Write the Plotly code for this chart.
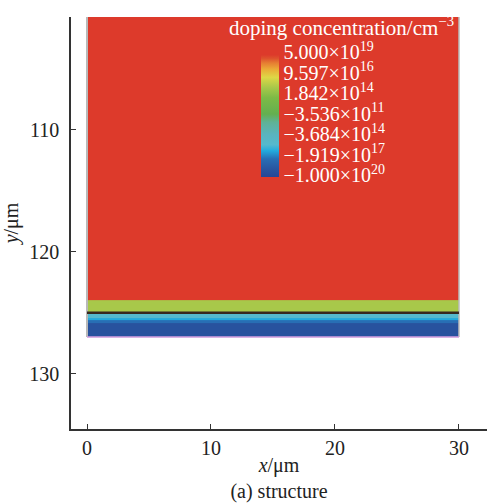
import numpy as np
import plotly.graph_objects as go

# ---- data ----
# layer boundaries along y (µm) and doping concentration (cm^-3) in each layer
y_edges = [100.0, 124.0, 125.0, 125.43, 125.64, 125.85, 127.0]
doping = [5.0e19, 1.2e15, -8.5e15, -5.5e16, -7.0e17, -2.5e19]
x_edges = [0.0, 30.0]
junction_y = 125.0

# colorbar tick labels (doping values)
cb_values = [-1.000e20, -1.919e17, -3.684e14, -3.536e11, 1.842e14, 9.597e16, 5.000e19]
cb_text = ["−1.000×10<sup>20</sup>", "−1.919×10<sup>17</sup>", "−3.684×10<sup>14</sup>",
           "−3.536×10<sup>11</sup>", "1.842×10<sup>14</sup>", "9.597×10<sup>16</sup>",
           "5.000×10<sup>19</sup>"]

x_ticks = [0, 10, 20, 30]
y_ticks = [110, 120, 130]


def sgnlog(v):
    v = np.asarray(v, dtype=float)
    return np.sign(v) * np.log10(np.maximum(np.abs(v), 1.0))


lev_x = sgnlog(cb_values)
lev_y = np.arange(len(cb_values), dtype=float)


def to_level(v):
    return np.interp(sgnlog(v), lev_x, lev_y)


levels = to_level(doping).reshape(-1, 1)

zmin, zmax = -0.08, 6.38
stops = [
    (-0.08, "rgb(38,70,150)"),
    (0.3, "rgb(40,85,160)"),
    (0.8, "rgb(40,110,180)"),
    (1.2, "rgb(35,170,220)"),
    (1.5, "rgb(85,185,205)"),
    (2.0, "rgb(90,180,190)"),
    (2.6, "rgb(95,178,150)"),
    (3.0, "rgb(100,175,80)"),
    (3.8, "rgb(125,186,70)"),
    (4.3, "rgb(168,200,74)"),
    (4.8, "rgb(222,215,70)"),
    (5.2, "rgb(235,170,55)"),
    (5.5, "rgb(230,125,50)"),
    (5.72, "rgb(222,82,45)"),
    (5.9, "rgb(221,58,43)"),
    (6.38, "rgb(221,58,43)"),
]
colorscale = [[(l - zmin) / (zmax - zmin), c] for l, c in stops]

serif = "Liberation Serif"

fig = go.Figure()
fig.add_trace(go.Heatmap(
    x=x_edges, y=y_edges, z=levels,
    zmin=zmin, zmax=zmax, colorscale=colorscale,
    hoverinfo="skip",
    colorbar=dict(
        x=(261 - 71) / 416, xanchor="left", xpad=0,
        y=(433 - 111.5) / 416, yanchor="middle", ypad=0,
        len=132, lenmode="pixels", thickness=18,
        outlinewidth=0, ticks="",
        tickvals=list(to_level(cb_values)), ticktext=cb_text,
        tickfont=dict(family=serif, size=20, color="white"),
    ),
))

# heatmap border lines
fig.add_trace(go.Scatter(x=[x_edges[0], x_edges[0]], y=[y_edges[0], y_edges[-1]], mode="lines",
                         line=dict(color="rgb(185,185,185)", width=2), hoverinfo="skip", showlegend=False))
fig.add_trace(go.Scatter(x=[x_edges[1], x_edges[1]], y=[y_edges[0], y_edges[-1]], mode="lines",
                         line=dict(color="rgb(185,185,185)", width=1.5), hoverinfo="skip", showlegend=False))
fig.add_trace(go.Scatter(x=x_edges, y=[y_edges[-1], y_edges[-1]], mode="lines",
                         line=dict(color="rgb(215,160,225)", width=1.5), hoverinfo="skip", showlegend=False))
# junction line
fig.add_trace(go.Scatter(x=x_edges, y=[junction_y, junction_y], mode="lines",
                         line=dict(color="rgb(55,40,30)", width=2.5), hoverinfo="skip", showlegend=False))

fig.add_annotation(
    text="doping concentration/cm<sup>−3</sup>", xref="paper", yref="paper",
    x=(341 - 71) / 416, y=(433 - 27) / 416, xanchor="center", yanchor="middle",
    showarrow=False, font=dict(family=serif, size=21, color="white"),
)

axis_common = dict(
    showgrid=False, zeroline=False, showline=True, linecolor="#333", linewidth=1.5,
    ticks="inside", ticklen=5, tickwidth=1.2, tickcolor="#333",
    tickfont=dict(family=serif, size=20, color="#222"), mirror=False,
)

fig.update_layout(
    width=487, height=503,
    margin=dict(l=71, r=0, t=17, b=70),
    plot_bgcolor="white", paper_bgcolor="white",
    showlegend=False,
    xaxis=dict(range=[-1.29, 32.26], tickvals=x_ticks, **axis_common,
               title=dict(text="<i>x</i>/μm<br>(a) structure",
                          font=dict(family=serif, size=20, color="#222"), standoff=4)),
    yaxis=dict(range=[134.55, 100.73], tickvals=y_ticks, ticklabelstandoff=6, **axis_common,
               title=dict(text="<i>y</i>/μm", font=dict(family=serif, size=20, color="#222"), standoff=6)),
)

fig.write_html("out.html")
